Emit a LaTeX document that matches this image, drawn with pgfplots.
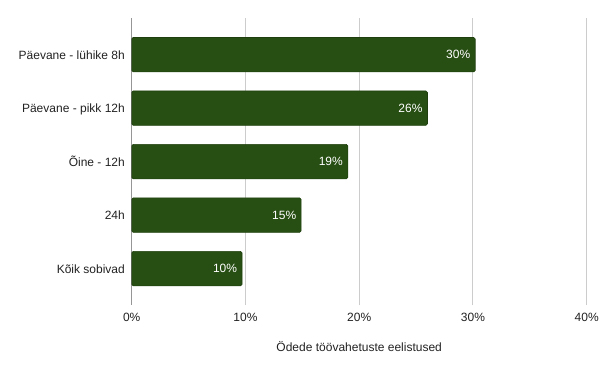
\documentclass[12pt,border=0pt]{standalone}
\usepackage{fontspec}
\setmainfont{Liberation Sans}
\usepackage{pgfplots}
\pgfplotsset{compat=1.18}
\definecolor{bargreen}{HTML}{274E13}
\definecolor{baredge}{HTML}{1F400E}
\definecolor{gridgray}{HTML}{CCCCCC}
\definecolor{axisgray}{HTML}{333333}
\definecolor{txt}{HTML}{222222}
\begin{document}
\begin{tikzpicture}
\begin{axis}[
  scale only axis,
  width=455pt, height=286.7pt,
  xmin=0, xmax=40,
  ymin=-0.68, ymax=4.68,
  xbar, bar width=34.4pt,
  xtick={0,10,20,30,40},
  xticklabels={0\%,10\%,20\%,30\%,40\%},
  ytick={0,1,2,3,4},
  yticklabels={Kõik sobivad,24h,Õine - 12h,Päevane - pikk 12h,Päevane - lühike 8h},
  major tick length=0pt,
  axis line style={draw=none},
  xmajorgrids, grid style={color=gridgray, line width=1pt},
  xticklabel style={anchor=base, inner sep=0pt, yshift=-16.5pt, text=txt},
  yticklabel style={anchor=base east, inner sep=0pt, xshift=-6.7pt, yshift=-4.5pt, text=txt},
  xlabel={Ödede töövahetuste eelistused},
  xlabel style={at={(rel axis cs:0.5,0)}, anchor=base, inner sep=0pt, yshift=-46.3pt, text=txt},
  nodes near coords,
  point meta=explicit symbolic,
  nodes near coords style={anchor=base east, inner sep=0pt, xshift=-4.7pt, yshift=-4.3pt, text=white},
]
\addplot[fill=bargreen, draw=baredge, line width=0.6pt, rounded corners=1.5pt] table[x=v, y=y, meta=lab] {
v y lab
30.2 4 30\%
26.0 3 26\%
19.0 2 19\%
14.9 1 15\%
9.7 0 10\%
};
\draw[axisgray, line width=1pt] (rel axis cs:0,0) -- (rel axis cs:0,1);
\end{axis}
\pgfresetboundingbox
\path (-131.7pt,-67pt) rectangle (473.3pt,305pt);
\end{tikzpicture}
\end{document}
